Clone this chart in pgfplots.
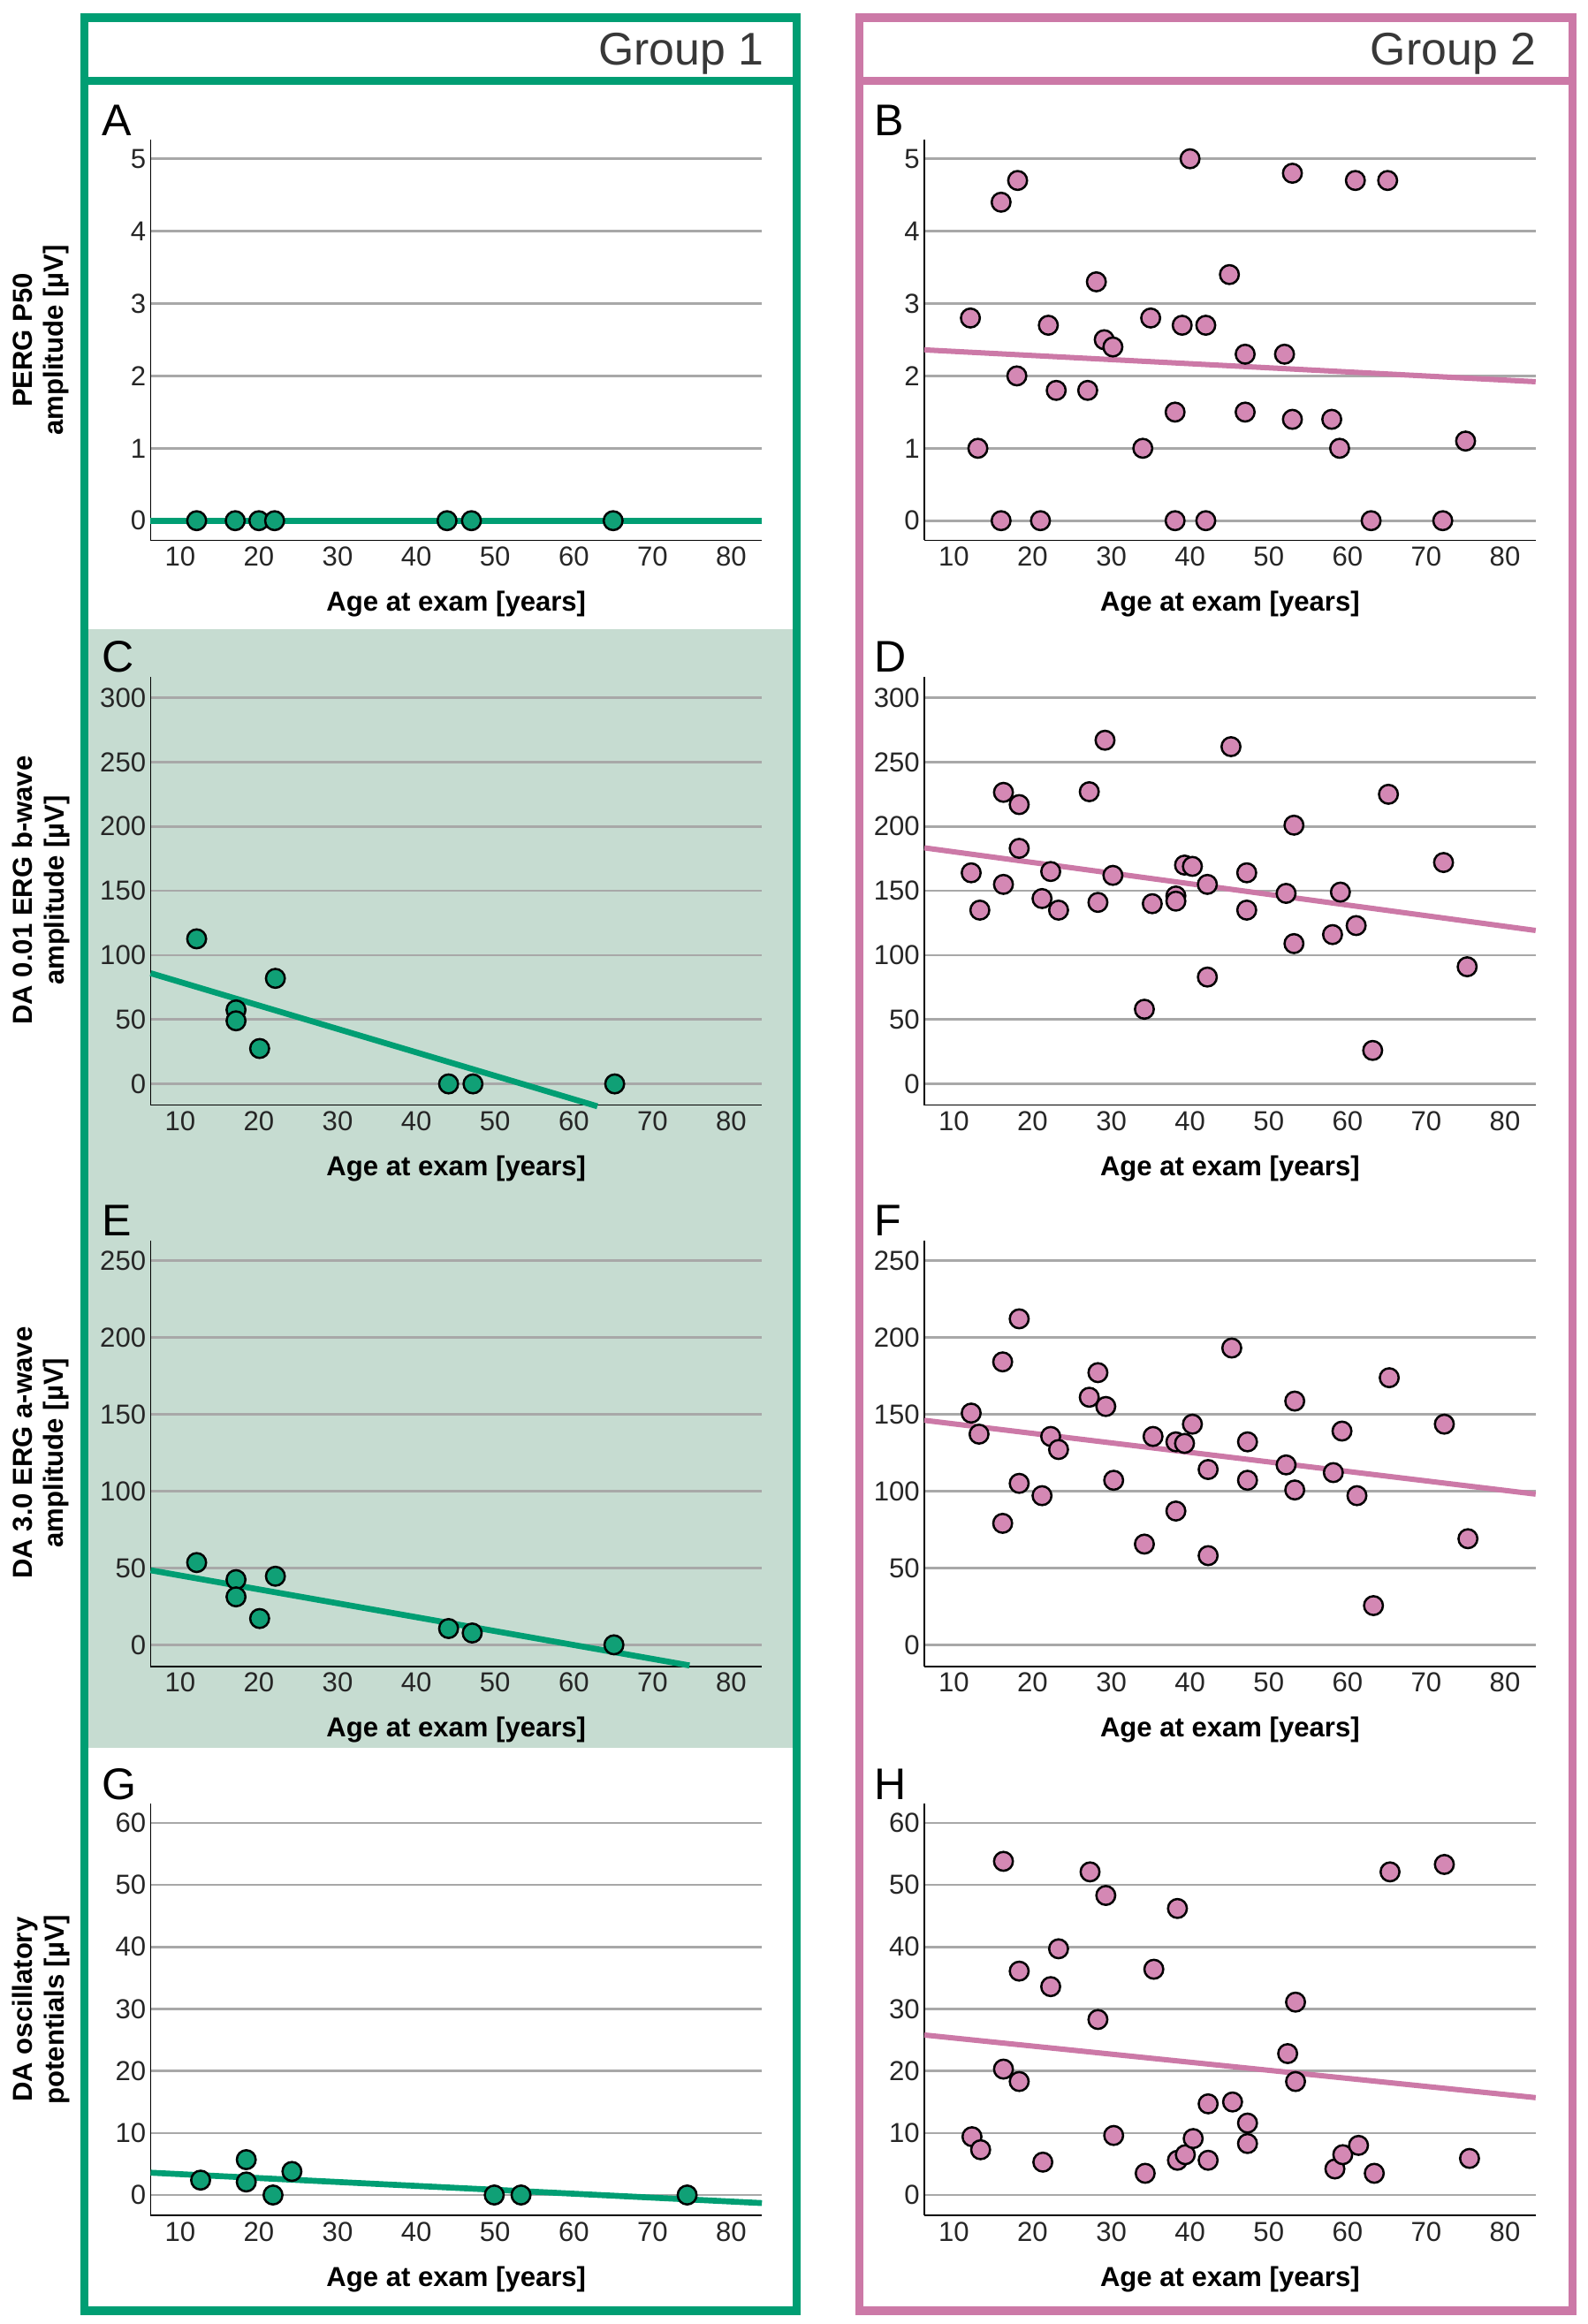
\documentclass[border=0pt]{standalone}
\usepackage{fontspec}
\setmainfont{Liberation Sans}
\usepackage{pgfplots}
\pgfplotsset{compat=1.18}

\definecolor{grp1}{HTML}{009E73}
\definecolor{grp2}{HTML}{CC79A7}
\definecolor{dot1}{HTML}{10A076}
\definecolor{dot2}{HTML}{D488B4}
\definecolor{bgshade}{HTML}{C6DCD1}
\definecolor{gridgray}{HTML}{A8A8A8}

\pgfplotsset{
  panel/.style={
    scale only axis, width=207pt,
    anchor=south west,
    xmin=6.25, xmax=83.9,
    axis lines*=left,
    axis line style={black, line width=0.5pt},
    xtick={10,20,...,80},
    major tick length=0pt,
    ymajorgrids, grid style={gridgray, line width=0.8pt},
    tick label style={font=\fontsize{9.3}{10}\selectfont, text=black!85},
    /pgf/number format/assume math mode=true,
    xticklabel style={inner sep=2pt},
    yticklabel style={inner sep=1.4pt},
    xlabel={Age at exam [years]},
    xlabel style={font=\fontsize{9.3}{10}\selectfont\bfseries, at={(axis description cs:0.5,0)}, anchor=center, yshift=-21.5pt},
    clip=false,
  },
  rowA/.style={height=135.55pt, ymin=-0.27, ymax=5.26, ytick={0,1,...,5}},
  rowC/.style={height=145.15pt, ymin=-16.5, ymax=316.5, ytick={0,50,...,300}},
  rowE/.style={height=144.25pt, ymin=-14, ymax=263, ytick={0,50,...,250}},
  rowG/.style={height=139.45pt, ymin=-3.3, ymax=63.1, ytick={0,10,...,60}},
  dots1/.style={only marks, mark=*, mark size=3.2pt, mark options={fill=dot1, draw=black, line width=0.75pt}},
  dots2/.style={only marks, mark=*, mark size=3.2pt, mark options={fill=dot2, draw=black, line width=0.75pt}},
  fit1/.style={no marks, grp1, line width=2pt},
  fit2/.style={no marks, grp2, line width=1.8pt},
}

\newcommand\ylab[3]{\node[rotate=90, align=center, font=\fontsize{9.3}{10.5}\selectfont\bfseries] at (13.9pt,#1) {#2\\#3};}
\newcommand\plet[3]{\node[anchor=base west, inner sep=0pt, font=\fontsize{15}{15}\selectfont] at (#1,#2) {#3};}

\begin{document}
\begin{tikzpicture}
\path[use as bounding box] (0,0) rectangle (537.5pt,787pt);

% shaded rows C and E of group 1
\fill[bgshade] (28.5pt,573.9pt) rectangle (269.75pt,195.2pt);

% frames
\draw[grp1, line width=2.8pt] (28.5pt,4.5pt) rectangle (269.75pt,781pt);
\draw[grp1, line width=2.8pt] (28.5pt,759.6pt) -- (269.75pt,759.6pt);
\draw[grp2, line width=2.8pt] (291pt,4.5pt) rectangle (532.5pt,781pt);
\draw[grp2, line width=2.8pt] (291pt,759.6pt) -- (532.5pt,759.6pt);

\node[anchor=base east, inner sep=0pt, text=black!78, font=\fontsize{15.5}{15.5}\selectfont] at (258.8pt,765pt) {Group 1};
\node[anchor=base east, inner sep=0pt, text=black!78, font=\fontsize{15.5}{15.5}\selectfont] at (520.3pt,765pt) {Group 2};

% y labels
\ylab{671.8pt}{PERG P50}{amplitude [µV]}
\ylab{485.5pt}{DA 0.01 ERG b-wave}{amplitude [µV]}
\ylab{295pt}{DA 3.0 ERG a-wave}{amplitude [µV]}
\ylab{106.5pt}{DA oscillatory}{potentials [µV]}

% panel letters
\plet{34.5pt}{741.1pt}{A}
\plet{296pt}{741.1pt}{B}
\plet{34.5pt}{559.3pt}{C}
\plet{296pt}{559.3pt}{D}
\plet{34.5pt}{368.6pt}{E}
\plet{296pt}{368.6pt}{F}
\plet{34.5pt}{177.7pt}{G}
\plet{296pt}{177.7pt}{H}

% ---------------- A
\begin{axis}[panel, rowA, at={(51pt,604.05pt)}]
\addplot[dots1] coordinates {(12.1,0)(17.0,0)(20.0,0)(22.0,0)(43.9,0)(47.0,0)(65.0,0)};
\addplot[fit1] coordinates {(6.25,0)(83.9,0)};
\end{axis}

% ---------------- B
\begin{axis}[panel, rowA, at={(313pt,604.05pt)}]
\addplot[dots2] coordinates {
(12.1,2.80)(13.05,1.00)(16.0,4.40)(18.1,4.70)(18.0,2.00)(16.0,0)(21.0,0)
(22.0,2.70)(23.0,1.80)(27.0,1.80)(28.1,3.30)(29.1,2.50)(30.2,2.40)(34.0,1.00)
(35.0,2.80)(38.1,1.50)(38.1,0)(39.0,2.70)(40.0,5.0)(42.0,2.70)(42.0,0)
(45.0,3.40)(47.0,2.30)(47.0,1.50)(52.0,2.30)(53.0,4.80)(53.0,1.40)(58.0,1.40)
(59.0,1.00)(61.0,4.70)(65.1,4.70)(63.0,0)(72.1,0)(75.0,1.10)};
\addplot[fit2] coordinates {(6.25,2.36)(83.9,1.92)};
\end{axis}

% ---------------- C
\begin{axis}[panel, rowC, at={(51pt,412.75pt)}]
\addplot[dots1] coordinates {(12.1,112.7)(17.1,57.5)(17.1,49)(20.1,27.5)(22.1,82)(44.1,0)(47.2,0)(65.2,0)};
\addplot[fit1] coordinates {(6.25,86)(63.0,-17.4)};
\end{axis}

% ---------------- D
\begin{axis}[panel, rowC, at={(313pt,412.75pt)}]
\addplot[dots2] coordinates {
(12.2,164)(13.3,135)(16.3,226.5)(16.3,155)(18.3,217)(18.3,183)(21.2,144)
(22.3,165)(23.3,135)(27.2,227)(28.3,141)(29.2,267)(30.2,162)(34.2,58)
(35.2,140)(38.2,146)(38.2,142)(39.3,170)(40.3,169)(42.2,155)(42.2,83)
(45.2,262)(47.2,164)(47.2,135)(52.2,148)(53.2,201)(53.2,109)(58.1,116)
(59.1,149)(61.1,123)(63.2,26)(65.2,225)(72.2,172)(75.2,91)};
\addplot[fit2] coordinates {(6.25,183.4)(83.9,119.2)};
\end{axis}

% ---------------- E
\begin{axis}[panel, rowE, at={(51pt,222.7pt)}]
\addplot[dots1] coordinates {(12.1,53.5)(17.1,42.4)(17.1,31.2)(20.1,17.1)(22.1,44.6)(44.1,10.6)(47.1,7.7)(65.1,0)};
\addplot[fit1] coordinates {(6.25,48.5)(74.7,-13.4)};
\end{axis}

% ---------------- F
\begin{axis}[panel, rowE, at={(313pt,222.7pt)}]
\addplot[dots2] coordinates {
(12.2,150.7)(13.2,137)(16.2,184)(16.2,79)(18.3,212)(18.3,105)(21.2,97)
(22.3,135.5)(23.3,127)(27.2,161)(28.3,177)(29.3,155)(30.3,107)(34.2,65.5)
(35.3,135.5)(38.2,132)(38.2,87)(39.3,131)(40.3,143.5)(42.3,114)(42.3,58)
(45.3,193)(47.3,132)(47.3,107)(52.2,117)(53.3,158.5)(53.3,100.7)(58.2,112)
(59.3,139)(61.2,97)(63.3,25.5)(65.3,173.7)(72.3,143.5)(75.3,69)};
\addplot[fit2] coordinates {(6.25,146)(83.9,98)};
\end{axis}

% ---------------- G
\begin{axis}[panel, rowG, at={(51pt,36.75pt)}]
\addplot[dots1] coordinates {(12.6,2.4)(18.4,5.7)(18.4,2.1)(21.8,0)(24.2,3.8)(49.9,0)(53.3,0)(74.4,0)};
\addplot[fit1] coordinates {(6.25,3.6)(83.9,-1.3)};
\end{axis}

% ---------------- H
\begin{axis}[panel, rowG, at={(313pt,36.75pt)}]
\addplot[dots2] coordinates {
(12.3,9.4)(13.4,7.3)(16.3,53.8)(16.3,20.3)(18.3,36.1)(18.3,18.3)(21.3,5.3)
(22.3,33.6)(23.3,39.7)(27.3,52.1)(28.3,28.3)(29.3,48.3)(30.3,9.6)(34.3,3.5)
(35.4,36.4)(38.4,46.2)(38.4,5.6)(39.4,6.5)(40.4,9.1)(42.3,14.7)(42.3,5.6)
(45.4,15.0)(47.3,11.6)(47.3,8.3)(52.4,22.8)(53.4,31.1)(53.4,18.3)(58.4,4.2)
(59.4,6.5)(61.4,8.0)(63.4,3.5)(65.4,52.1)(72.3,53.3)(75.5,5.9)};
\addplot[fit2] coordinates {(6.25,25.8)(83.9,15.7)};
\end{axis}

\end{tikzpicture}
\end{document}
